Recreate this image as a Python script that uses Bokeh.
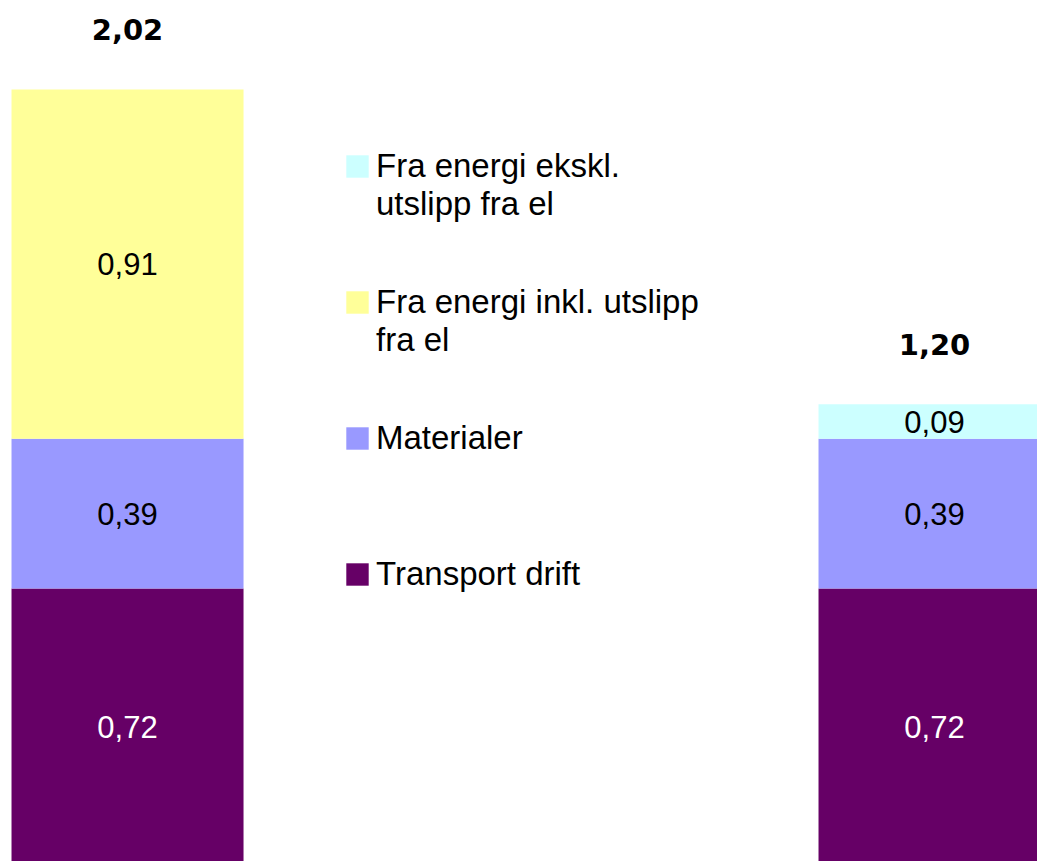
from bokeh.plotting import figure
from bokeh.models import ColumnDataSource, Legend, LegendItem, Range1d
from bokeh.core.properties import value
from bokeh.embed import file_html
from bokeh.resources import INLINE

categories = ["Alternativ 1", "Alternativ 2"]
series_names = ["Transport drift", "Materialer",
                "\nFra energi inkl. utslipp\nfra el", "\nFra energi ekskl.\nutslipp fra el"]
transport_drift = [0.72, 0.72]
materialer = [0.39, 0.39]
energi_inkl = [0.91, 0.00]
energi_ekskl = [0.00, 0.09]
totals = [2.02, 1.20]
total_labels = ["2,02", "1,20"]
colors = ["#660066", "#9999FF", "#FFFF99", "#CCFFFF"]
label_colors = ["white", "black", "black", "black"]

series = [transport_drift, materialer, energi_inkl, energi_ekskl]
xs = list(range(len(categories)))

p = figure(width=1037, height=861, output_backend="svg", toolbar_location=None,
           x_range=Range1d(-0.1574, 1.1276), y_range=Range1d(0.0086, 2.252),
           min_border=0, outline_line_color=None)
p.axis.visible = False
p.grid.visible = False

bottoms = [0.0] * len(xs)
renderers = []
for name, vals, col, lc in zip(series_names, series, colors, label_colors):
    tops = [b + v for b, v in zip(bottoms, vals)]
    src = ColumnDataSource(dict(x=xs, bottom=bottoms, top=tops))
    r = p.vbar(x="x", bottom="bottom", top="top", width=0.2875, source=src,
               fill_color=col, line_color=None)
    renderers.append((name, r))
    lx, ly, lt = [], [], []
    for x, b, v in zip(xs, bottoms, vals):
        if v > 0:
            lx.append(x)
            ly.append(b + v / 2)
            lt.append(f"{v:.2f}".replace(".", ","))
    p.text(x=lx, y=ly, text=lt, text_align="center", text_baseline="middle",
           text_font=value("Liberation Sans"), text_font_size="31px", text_color=lc)
    bottoms = tops

p.text(x=xs, y=totals, text=total_labels, y_offset=-60, text_align="center",
       text_baseline="middle", text_font=value("DejaVu Sans"), text_font_size="29px",
       text_font_style="bold", text_color="black")

items = [LegendItem(label=n, renderers=[r]) for n, r in reversed(renderers)]
legend = Legend(items=items, location=(343, 230), orientation="vertical",
                border_line_color=None, background_fill_alpha=0,
                glyph_width=28, glyph_height=28, label_standoff=5,
                label_text_font="Liberation Sans", label_text_font_size="33px",
                label_text_color="black",
                label_text_line_height=1.15, spacing=22, padding=0, margin=0,
                label_height=114, label_text_baseline="middle")
p.add_layout(legend, "center")

open("out.html", "w").write(file_html(p, INLINE))
